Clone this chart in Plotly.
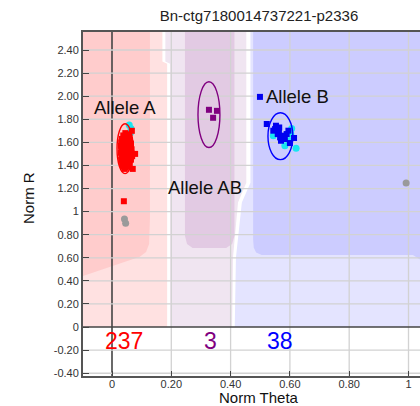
import plotly.graph_objects as go

# ---------------- data ----------------
title_text = "Bn-ctg7180014737221-p2336"

# genotype call points (Norm Theta, Norm R)
aa_theta = [0.067,
            0.045, 0.053,
            0.038, 0.048, 0.058,
            0.033, 0.042, 0.051, 0.060,
            0.031, 0.040, 0.049, 0.057, 0.064,
            0.030, 0.038, 0.047, 0.055, 0.063,
            0.031, 0.039, 0.048, 0.056, 0.066,
            0.030, 0.040, 0.049, 0.058, 0.065, 0.078,
            0.032, 0.041, 0.050, 0.059, 0.068,
            0.031, 0.040, 0.049, 0.057, 0.064,
            0.034, 0.043, 0.052, 0.060,
            0.037, 0.046, 0.055,
            0.042, 0.070,
            0.040]
aa_r = [1.70,
        1.68, 1.67,
        1.66, 1.65, 1.66,
        1.63, 1.62, 1.63, 1.62,
        1.60, 1.59, 1.60, 1.61, 1.59,
        1.57, 1.56, 1.57, 1.56, 1.57,
        1.54, 1.53, 1.54, 1.53, 1.54,
        1.51, 1.50, 1.51, 1.50, 1.51, 1.50,
        1.48, 1.47, 1.48, 1.47, 1.48,
        1.45, 1.44, 1.45, 1.44, 1.45,
        1.42, 1.41, 1.42, 1.41,
        1.39, 1.38, 1.39,
        1.37, 1.37,
        1.09]

ab_theta = [0.327, 0.354, 0.341]
ab_r = [1.882, 1.873, 1.813]

bb_theta = [0.499, 0.522, 0.553, 0.544, 0.559, 0.567, 0.576, 0.570, 0.589,
            0.600, 0.614, 0.595, 0.550, 0.563, 0.583, 0.564]
bb_r = [1.994, 1.759, 1.744, 1.701, 1.672, 1.643, 1.658, 1.614, 1.672,
        1.594, 1.638, 1.701, 1.715, 1.695, 1.629, 1.729]

ref_theta = [0.058, 0.064, 0.062, 0.606, 0.603, 0.621, 0.583, 0.598, 0.544]
ref_r = [1.75, 1.72, 1.68, 1.721, 1.672, 1.548, 1.571, 1.614, 1.658]

nocall_theta = [0.042, 0.046, 0.992]
nocall_r = [0.935, 0.900, 1.248]

# cluster ellipses: centre theta, centre R, half width, half height
ell_theta = [0.044, 0.327, 0.568]
ell_r = [1.545, 1.840, 1.653]
ell_w = [0.027, 0.037, 0.042]
ell_h = [0.216, 0.285, 0.203]
ell_colors = ["#FF0000", "#800080", "#0000FF"]

# call counts below the zero line
count_values = [237, 3, 38]
count_theta = [0.040, 0.333, 0.567]
count_colors = ["#FF0000", "#800080", "#0000FF"]

# cluster labels
label_text = ["Allele A", "Allele AB", "Allele B"]
label_theta = [0.043, 0.314, 0.627]
label_r = [1.90, 1.21, 2.00]

# call regions (outline vertices in Theta/R space)
pink_light_t = [-0.1, 0.170, 0.170, 0.186, 0.186, -0.1]
pink_light_r = [2.6, 2.6, 2.30, 2.28, 0.0, 0.0]
pink_dark_t = [-0.1, 0.128, 0.128, 0.125, 0.115, 0.094, -0.1]
pink_dark_r = [2.6, 2.6, 0.94, 0.72, 0.65, 0.61, 0.44]
lav_light_t = [0.180, 0.453, 0.453, 0.425, 0.408, 0.405, 0.196, 0.196, 0.180]
lav_light_r = [2.6, 2.6, 1.25, 1.08, 0.60, 0.0, 0.0, 2.28, 2.30]
lav_dark_t = [0.246, 0.413, 0.413, 0.405, 0.385, 0.272, 0.253, 0.246]
lav_dark_r = [2.6, 2.6, 0.79, 0.72, 0.685, 0.685, 0.72, 0.79]
blue_light_t = [0.467, 1.1, 1.1, 0.414, 0.418, 0.438, 0.467]
blue_light_r = [2.6, 2.6, 0.0, 0.0, 0.60, 1.08, 1.25]
blue_dark_t = [0.476, 1.1, 1.1, 1.015, 0.505, 0.486, 0.478, 0.476]
blue_dark_r = [2.6, 2.6, 0.48, 0.625, 0.625, 0.645, 0.69, 0.76]

region_fills = [
    (pink_light_t, pink_light_r, "#FFE1E1"),
    (pink_dark_t, pink_dark_r, "#FFCCCC"),
    (lav_light_t, lav_light_r, "#F0E5F1"),
    (lav_dark_t, lav_dark_r, "#E2CAE3"),
    (blue_light_t, blue_light_r, "#E4E4FF"),
    (blue_dark_t, blue_dark_r, "#CCCCFF"),
]

y_tickvals = [-0.4, -0.2, 0, 0.2, 0.4, 0.6, 0.8, 1.0, 1.2, 1.4, 1.6, 1.8, 2.0, 2.2, 2.4]
y_ticktext = ["-0.40", "-0.20", "0", "0.20", "0.40", "0.60", "0.80", "1",
              "1.20", "1.40", "1.60", "1.80", "2.00", "2.20", "2.40"]
x_tickvals = [0, 0.2, 0.4, 0.6, 0.8, 1.0]
x_ticktext = ["0", "0.20", "0.40", "0.60", "0.80", "1"]

# ---------------- figure ----------------
FONT = "Liberation Sans, Arial, sans-serif"
GRID = "#D2D2D2"
X_RANGE = [-0.0978, 1.0388]
Y_RANGE = [-0.424, 2.556]
fig = go.Figure()

shapes = []
for ts, rs, col in region_fills:
    path = "M " + " L ".join(f"{t},{r}" for t, r in zip(ts, rs)) + " Z"
    shapes.append(dict(type="path", path=path, xref="x", yref="y",
                       fillcolor=col, line=dict(width=0), layer="below"))

# grid and zero lines drawn on top of the shaded call regions
for v in x_tickvals:
    zero = v == 0
    shapes.append(dict(type="line", xref="x", yref="y", x0=v, x1=v,
                       y0=Y_RANGE[0], y1=Y_RANGE[1], layer="below",
                       line=dict(color="#444444" if zero else GRID,
                                 width=1.6 if zero else 1.3)))
for v in y_tickvals:
    zero = v == 0
    shapes.append(dict(type="line", xref="x", yref="y", y0=v, y1=v,
                       x0=X_RANGE[0], x1=X_RANGE[1], layer="below",
                       line=dict(color="#444444" if zero else GRID,
                                 width=1.6 if zero else 1.3)))

for ct, cr, w, h, col in zip(ell_theta, ell_r, ell_w, ell_h, ell_colors):
    shapes.append(dict(type="circle", xref="x", yref="y",
                       x0=ct - w, x1=ct + w, y0=cr - h, y1=cr + h,
                       line=dict(color=col, width=1.4), layer="above"))

fig.add_trace(go.Scatter(x=ref_theta, y=ref_r, mode="markers",
                         marker=dict(symbol="circle", size=7, color="#19E6F0"),
                         hoverinfo="skip", showlegend=False))
fig.add_trace(go.Scatter(x=nocall_theta, y=nocall_r, mode="markers",
                         marker=dict(symbol="circle", size=7, color="#9A9A9A"),
                         showlegend=False))
fig.add_trace(go.Scatter(x=aa_theta, y=aa_r, mode="markers",
                         marker=dict(symbol="square", size=6, color="#FF0000"),
                         showlegend=False))
fig.add_trace(go.Scatter(x=ab_theta, y=ab_r, mode="markers",
                         marker=dict(symbol="square", size=6, color="#800080"),
                         showlegend=False))
fig.add_trace(go.Scatter(x=bb_theta, y=bb_r, mode="markers",
                         marker=dict(symbol="square", size=6, color="#0000F0"),
                         showlegend=False))

annotations = []
for txt, t, r in zip(label_text, label_theta, label_r):
    annotations.append(dict(x=t, y=r, xref="x", yref="y", text=txt, showarrow=False,
                            xanchor="center", yanchor="middle",
                            font=dict(family=FONT, size=18.5, color="#111111")))
for n, t, col in zip(count_values, count_theta, count_colors):
    annotations.append(dict(x=t, y=-0.118, xref="x", yref="y", text=str(n),
                            showarrow=False, xanchor="center", yanchor="middle",
                            font=dict(family=FONT, size=23, color=col)))

# axis titles placed by pixel position, converted to paper units
PL, PT, PW, PH = 83, 32, 337, 344
annotations.append(dict(x=(28 - PL) / PW, y=(PT + PH - 198) / PH,
                        xref="paper", yref="paper", text="Norm R",
                        showarrow=False, textangle=-90,
                        xanchor="center", yanchor="middle",
                        font=dict(family=FONT, size=15, color="#111111")))
annotations.append(dict(x=(259 - PL) / PW, y=(PT + PH - 397.5) / PH,
                        xref="paper", yref="paper", text="Norm Theta",
                        showarrow=False, xanchor="center", yanchor="middle",
                        font=dict(family=FONT, size=15, color="#111111")))

fig.update_layout(
    width=420, height=406,
    margin=dict(l=PL, r=0, t=PT, b=406 - PT - PH, pad=0),
    paper_bgcolor="white", plot_bgcolor="white",
    title=dict(text=title_text, x=(259 - PL) / PW, xref="paper", xanchor="center",
               y=1 - 16 / 406, yref="container", yanchor="middle",
               font=dict(family=FONT, size=15, color="#222222")),
    shapes=shapes, annotations=annotations,
    xaxis=dict(range=X_RANGE, tickvals=x_tickvals, ticktext=x_ticktext,
               showgrid=False, zeroline=False,
               showline=True, linecolor="#555555", linewidth=2, mirror=True,
               ticks="inside", ticklen=5, tickcolor="#444444", tickwidth=1.3,
               ticklabelstandoff=-3,
               tickfont=dict(family=FONT, size=11, color="#333333")),
    yaxis=dict(range=Y_RANGE, tickvals=y_tickvals, ticktext=y_ticktext,
               showgrid=False, zeroline=False,
               showline=True, linecolor="#555555", linewidth=2,
               ticks="inside", ticklen=6, tickcolor="#444444", tickwidth=1.3,
               tickfont=dict(family=FONT, size=11, color="#333333")),
)

fig.write_html("out.html")
